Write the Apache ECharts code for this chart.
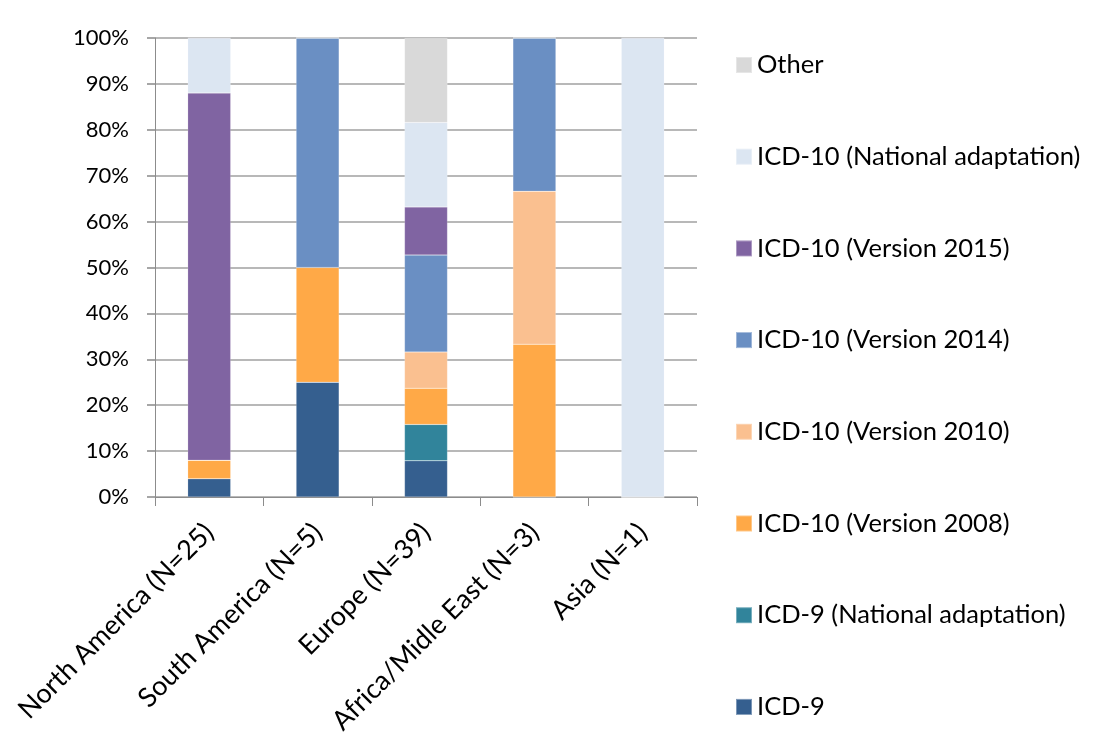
<!DOCTYPE html>
<html>
<head>
<meta charset="utf-8">
<script src="https://cdn.jsdelivr.net/npm/echarts@6/dist/echarts.min.js"></script>
<style>
  html, body { margin: 0; padding: 0; background: #ffffff; }
  #chart { width: 1102px; height: 751px; }
</style>
</head>
<body>
<div id="chart"></div>
<script>
// Regions on the category axis
const regions = [
  'North America (N=25)',
  'South America (N=5)',
  'Europe (N=39)',
  'Africa/Midle East (N=3)',
  'Asia (N=1)'
];

// Share of each classification per region (%), stacked bottom to top
const icd9            = [4, 25, 7.9, 0, 0];
const icd9National    = [0, 0, 7.9, 0, 0];
const icd10v2008      = [4, 25, 7.9, 33.3, 0];
const icd10v2010      = [0, 0, 7.9, 33.3, 0];
const icd10v2014      = [0, 50, 21.1, 33.4, 0];
const icd10v2015      = [80, 0, 10.5, 0, 0];
const icd10National   = [12, 0, 18.4, 0, 100];
const other           = [0, 0, 18.4, 0, 0];

// Y axis tick values
const yTicks = [0, 10, 20, 30, 40, 50, 60, 70, 80, 90, 100];

const seriesDefs = [
  { name: 'ICD-9',                          data: icd9,          color: '#355f8f' },
  { name: 'ICD-9 (National adaptation)',    data: icd9National,  color: '#31849b' },
  { name: 'ICD-10 (Version 2008)',          data: icd10v2008,    color: '#ffa947' },
  { name: 'ICD-10 (Version 2010)',          data: icd10v2010,    color: '#fac090' },
  { name: 'ICD-10 (Version 2014)',          data: icd10v2014,    color: '#6a8fc3' },
  { name: 'ICD-10 (Version 2015)',          data: icd10v2015,    color: '#8064a2' },
  { name: 'ICD-10 (National adaptation)',   data: icd10National, color: '#dce6f2' },
  { name: 'Other',                          data: other,         color: '#d9d9d9' }
];

const FONT = 'Lato, "Open Sans", "Liberation Sans", sans-serif';

const chart = echarts.init(document.getElementById('chart'), null, { renderer: 'canvas' });

chart.setOption({
  backgroundColor: '#ffffff',
  animation: false,
  textStyle: { fontFamily: FONT },
  grid: { left: 155, right: 405, top: 38, bottom: 254, containLabel: false },
  legend: {
    orient: 'vertical',
    left: 730,
    top: 47,
    icon: 'rect',
    itemWidth: 16,
    itemHeight: 16,
    itemGap: 65.7,
    textStyle: { fontFamily: FONT, fontSize: 25.5, color: '#000000', lineHeight: 26 },
    data: seriesDefs.slice().reverse().map(s => s.name)
  },
  xAxis: {
    type: 'category',
    data: regions,
    axisLine: { show: true, lineStyle: { color: '#8c8c8c', width: 1 } },
    axisTick: { show: true, length: 9, lineStyle: { color: '#8c8c8c' } },
    axisLabel: {
      rotate: 45,
      interval: 0,
      margin: 31,
      fontFamily: FONT,
      fontSize: 27,
      color: '#000000'
    },
    splitLine: { show: false }
  },
  yAxis: {
    type: 'value',
    min: yTicks[0],
    max: yTicks[yTicks.length - 1],
    interval: yTicks[1] - yTicks[0],
    axisLine: { show: true, lineStyle: { color: '#8c8c8c', width: 1 } },
    axisTick: { show: true, length: 8, lineStyle: { color: '#a6a6a6', width: 2 } },
    axisLabel: {
      formatter: '{value}%',
      margin: 26,
      fontFamily: FONT,
      fontSize: 22,
      color: '#000000'
    },
    splitLine: { show: true, lineStyle: { color: '#b8b8b8', width: 2 } }
  },
  series: seriesDefs.map(s => ({
    name: s.name,
    type: 'bar',
    stack: 'total',
    barWidth: 43,
    data: s.data,
    itemStyle: { color: s.color, borderColor: 'rgba(255,255,255,0.35)', borderWidth: 0.5 },
    emphasis: { disabled: true }
  }))
});
</script>
</body>
</html>
